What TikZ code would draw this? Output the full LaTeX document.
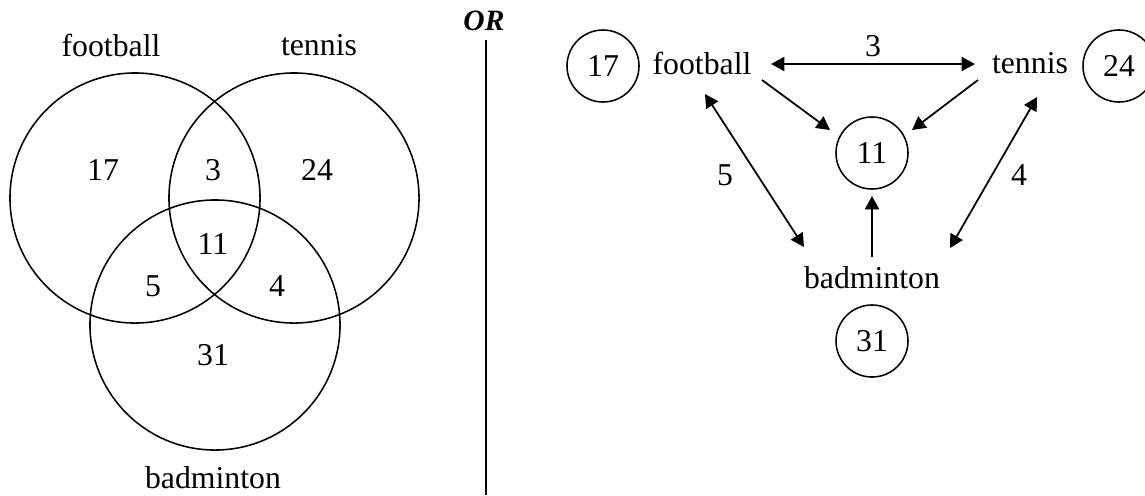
\documentclass[tikz,border=0pt]{standalone}
\usepackage{fontspec}
\setmainfont{Liberation Serif}
\usepackage{tikz}
\usetikzlibrary{arrows.meta, positioning, calc}
\newcommand{\vennfont}{\fontsize{22.6}{27}\selectfont}

\begin{document}
\begin{tikzpicture}[
    x=0.025cm, y=-0.025cm,
    ring/.style={line width=1.1pt},
    txt/.style={font=\vennfont, inner sep=2pt},
    num/.style={draw, circle, line width=1.1pt, minimum size=1.8cm,
                inner sep=0pt, font=\vennfont},
    arr/.style={-{Triangle[length=9.5pt,width=10pt]}, line width=1.25pt},
    dbl/.style={{Triangle[length=9.5pt,width=10pt]}-{Triangle[length=9.5pt,width=10pt]},
                line width=1.25pt},
    sepline/.style={line width=1.6pt}
  ]
  \useasboundingbox (0,0) rectangle (1145,495);

  % Venn diagram
  \draw[ring] (135,198) circle[radius=3.125cm];
  \draw[ring] (294,198) circle[radius=3.125cm];
  \draw[ring] (215,325) circle[radius=3.125cm];

  \node[txt] (vfb) at (111,45) {football};
  \node[txt] (vtn) at (319,45) {tennis};
  \node[txt] (vbd) at (213,478) {badminton};

  \node[txt] (v17) at (103,170) {17};
  \node[txt] (v3)  at (213,170) {3};
  \node[txt] (v24) at (317,170) {24};
  \node[txt] (v11) at (213,244) {11};
  \node[txt] (v5)  at (153,286) {5};
  \node[txt] (v4)  at (277,286) {4};
  \node[txt] (v31) at (213,355) {31};

  % Separator
  \node[font=\fontsize{21}{25}\selectfont\bfseries\itshape] (or) at (484,21) {OR};
  \draw[sepline] (486,40) -- (486,495);

  % Arrow diagram
  \node[num] (c17) at (603,66) {17};
  \node[txt] (fb)  at (702,63) {football};
  \node[txt] (tn)  at (1030,63) {tennis};
  \node[num] (c24) at (1119,66) {24};
  \node[num] (c11) at (872,153) {11};
  \node[txt] (bd)  at (872,278) {badminton};
  \node[num] (c31) at (872,341) {31};

  % Arrows
  \draw[dbl] ($(fb.center)+(69,1)$) -- node[above=1pt, font=\vennfont]{3}
        ($(tn.center)+(-55,1)$);
  \draw[arr] ($(fb.center)+(60,17)$) -- ($(c11.center)+(-42,-23)$);
  \draw[arr] ($(tn.center)+(-52,17)$) -- ($(c11.center)+(40,-23)$);
  \draw[dbl] ($(fb.center)+(3,31)$) -- node[midway, left=0.4cm, yshift=-0.125cm,
        font=\vennfont]{5} ($(bd.center)+(-68,-31)$);
  \draw[dbl] ($(tn.center)+(7,34)$) -- node[midway, right=0.3cm, yshift=-0.06cm,
        font=\vennfont]{4} ($(bd.center)+(78,-30)$);
  \draw[arr] ($(bd.center)+(0,-21)$) -- ($(c11.center)+(0,43)$);
\end{tikzpicture}
\end{document}
